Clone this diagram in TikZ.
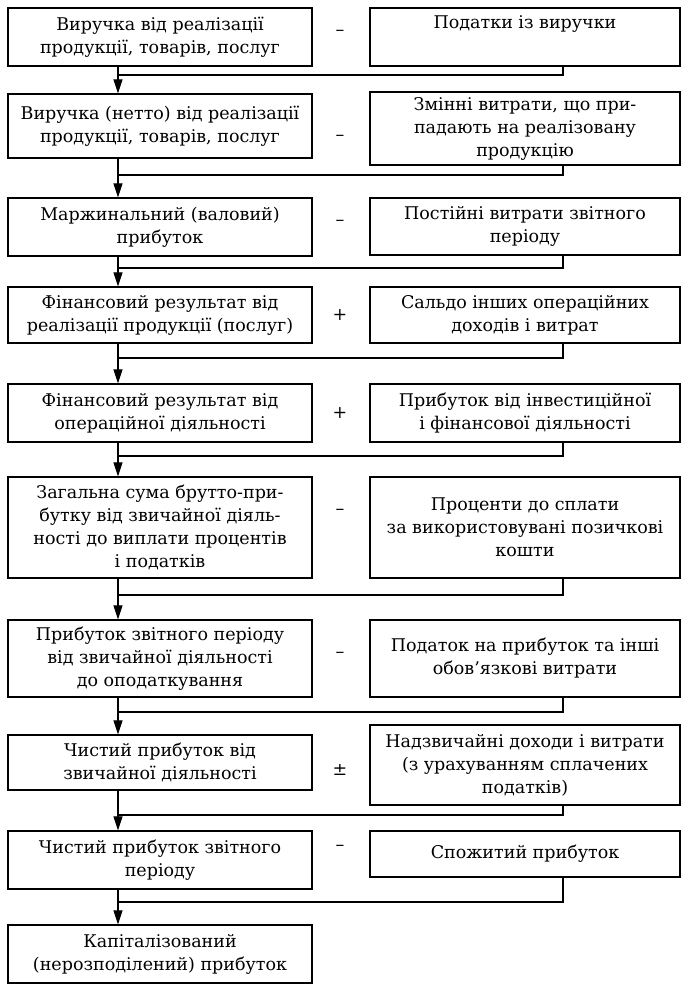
\documentclass[tikz,border=0pt]{standalone}
\usepackage{fontspec}
\setmainfont{DejaVu Serif}
\usetikzlibrary{arrows.meta}
\begin{document}
\begin{tikzpicture}[x=1pt,y=-1pt,
  box/.style={draw, line width=1.2pt, inner sep=0pt, align=center,
    font=\fontsize{17.5}{23}\selectfont},
  lbox/.style={box, minimum width=304pt},
  rbox/.style={box, minimum width=310pt},
  sign/.style={font=\fontsize{17.5}{23}\selectfont},
  flow/.style={line width=1.1pt, -{Triangle[length=14pt,width=9pt]}},
  link/.style={line width=1.1pt}]
\useasboundingbox (0,0) rectangle (691,991);
% left column
\node[lbox, minimum height=58pt] (L1) at (160,37) {Виручка від реалізації\\продукції, товарів, послуг};
\node[lbox, minimum height=64pt] (L2) at (160,126) {Виручка (нетто) від реалізації\\продукції, товарів, послуг};
\node[lbox, minimum height=58pt] (L3) at (160,227) {Маржинальний (валовий)\\прибуток};
\node[lbox, minimum height=56pt] (L4) at (160,315) {Фінансовий результат від\\реалізації продукції (послуг)};
\node[lbox, minimum height=58pt] (L5) at (160,413) {Фінансовий результат від\\операційної діяльності};
\node[lbox, minimum height=101pt] (L6) at (160,527.5) {Загальна сума брутто-при-\\бутку від звичайної діяль-\\ності до виплати процентів\\і податків};
\node[lbox, minimum height=77pt] (L7) at (160,658.5) {Прибуток звітного періоду\\від звичайної діяльності\\до оподаткування};
\node[lbox, minimum height=55pt] (L8) at (160,762.5) {Чистий прибуток від\\звичайної діяльності};
\node[lbox, minimum height=58pt] (L9) at (160,860) {Чистий прибуток звітного\\періоду};
\node[lbox, minimum height=58pt] (L10) at (160,954) {Капіталізований\\(нерозподілений) прибуток};
% right column
\node[rbox, minimum height=58pt] (R1) at (525,37) {Податки із виручки\\\strut};
\node[rbox, minimum height=73pt] (R2) at (525,128.5) {Змінні витрати, що при-\\падають на реалізовану\\продукцію};
\node[rbox, minimum height=57pt] (R3) at (525,226.5) {Постійні витрати звітного\\періоду};
\node[rbox, minimum height=56pt] (R4) at (525,315) {Сальдо інших операційних\\доходів і витрат};
\node[rbox, minimum height=58pt] (R5) at (525,413) {Прибуток від інвестиційної\\і фінансової діяльності};
\node[rbox, minimum height=101pt] (R6) at (525,527.5) {Проценти до сплати\\за використовувані позичкові\\кошти};
\node[rbox, minimum height=77pt] (R7) at (525,658.5) {Податок на прибуток та інші\\обов’язкові витрати};
\node[rbox, minimum height=80pt] (R8) at (525,765) {Надзвичайні доходи і витрати\\(з урахуванням сплачених\\податків)};
\node[rbox, minimum height=46pt] (R9) at (525,854) {Спожитий прибуток};
% signs
\node[sign] (s1) at (340,33) {–};
\node[sign] (s2) at (340,138) {–};
\node[sign] (s3) at (340,223) {–};
\node[sign] (s4) at (340,315) {+};
\node[sign] (s5) at (340,413) {+};
\node[sign] (s6) at (340,512) {–};
\node[sign] (s7) at (340,655) {–};
\node[sign] (s8) at (340,770) {±};
\node[sign] (s9) at (340,848) {–};
% junctions
\coordinate (rx) at (563,0);
\coordinate (j1) at (118,75);
\coordinate (j2) at (118,175);
\coordinate (j3) at (118,268);
\coordinate (j4) at (118,358);
\coordinate (j5) at (118,456);
\coordinate (j6) at (118,595);
\coordinate (j7) at (118,712);
\coordinate (j8) at (118,815);
\coordinate (j9) at (118,902);
\foreach \a/\b/\j/\r in {L1/L2/j1/R1, L2/L3/j2/R2, L3/L4/j3/R3, L4/L5/j4/R4, L5/L6/j5/R5, L6/L7/j6/R6, L7/L8/j7/R7, L8/L9/j8/R8, L9/L10/j9/R9}{
  \draw[flow] (\a.south -| \j) -- (\b.north -| \j);
  \draw[link] (\r.south -| rx) |- (\j);
}
\end{tikzpicture}
\end{document}
